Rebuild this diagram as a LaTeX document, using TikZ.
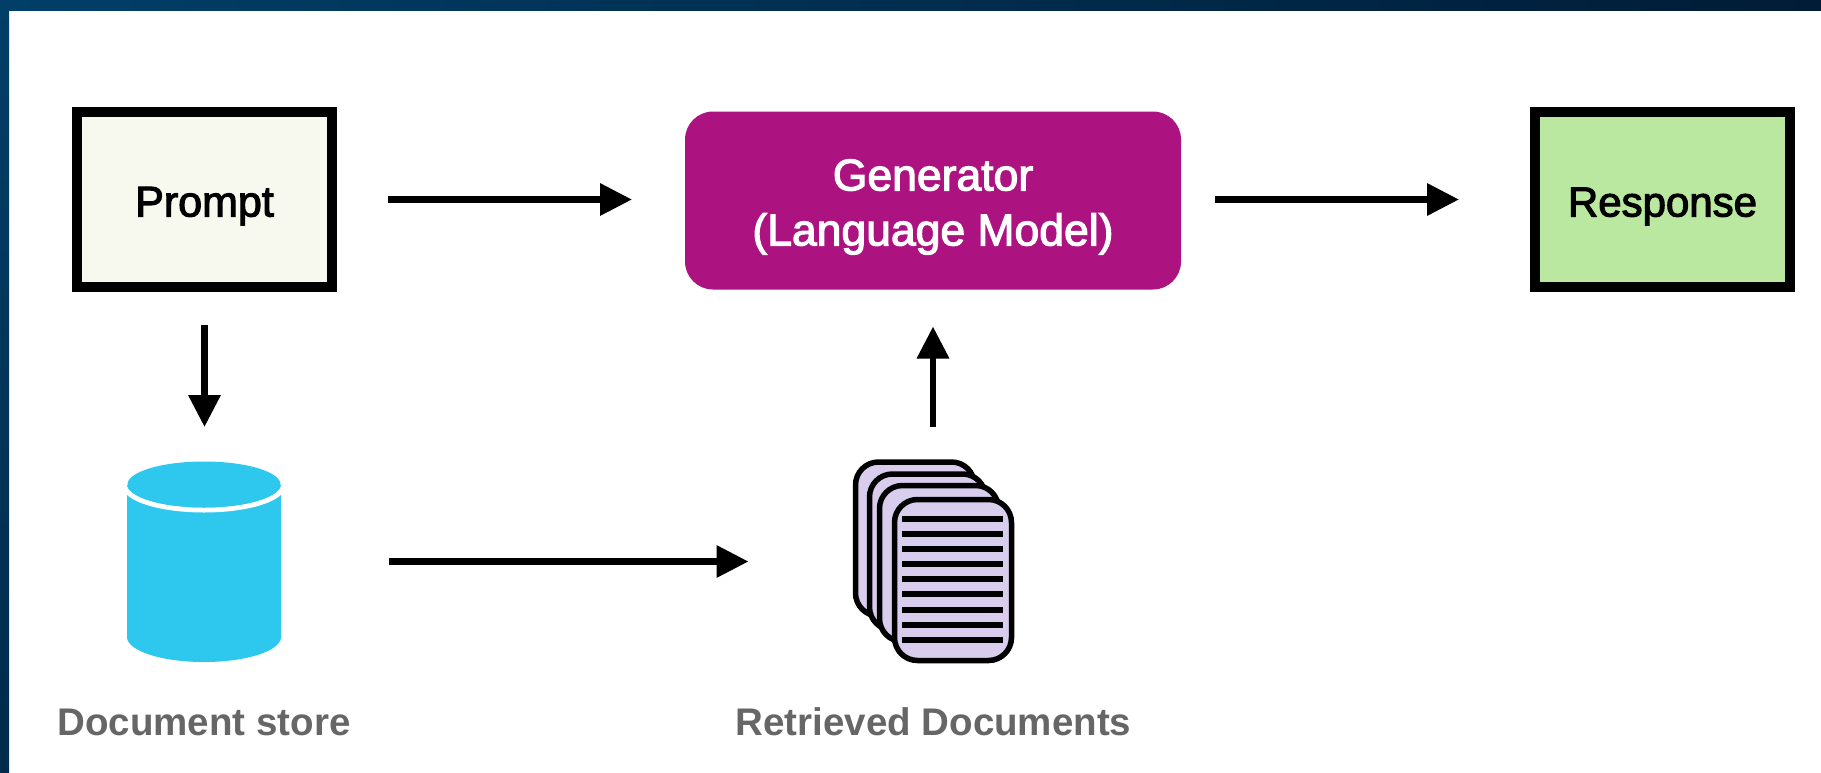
\documentclass[tikz,border=0pt]{standalone}
\usepackage{fontspec}
\usetikzlibrary{arrows.meta}
\setmainfont{Liberation Sans}
\newfontfamily\medfont[FakeBold=2.6]{Liberation Sans}
\newfontfamily\boldfont{Liberation Sans Bold}
\definecolor{bgA}{HTML}{013F68}
\definecolor{bgB}{HTML}{011C36}
\definecolor{bgC}{HTML}{002B4C}
\definecolor{promptfill}{HTML}{F7F9EE}
\definecolor{respfill}{HTML}{BAE8A0}
\definecolor{genfill}{HTML}{AD1380}
\definecolor{cylfill}{HTML}{2EC8EE}
\definecolor{sheetfill}{HTML}{D9CDEE}
\definecolor{labelgray}{HTML}{666666}
\tikzset{
  x=1pt,y=-1pt,
  outbox/.style={draw=black,line width=10pt,minimum width=255pt,minimum height=175pt,inner sep=0pt,outer sep=0pt,text height=34pt,text depth=0pt},
  genbox/.style={fill=genfill,rounded corners=28pt,minimum width=496pt,minimum height=178pt,inner sep=0pt,outer sep=0pt},
  gentext/.style={inner sep=0pt,align=center,text=white,font=\fontsize{44.5}{55}\selectfont\medfont},
  flow/.style={line width=6.5pt,-{Triangle[length=32pt,width=31pt]}},
  sheet/.style={draw=black,fill=sheetfill,line width=5.5pt,rounded corners=23pt,inner sep=0pt,outer sep=0pt},
  textline/.style={draw=black,line width=6pt},
  caption/.style={text=labelgray,anchor=base,inner sep=0pt,font=\fontsize{38.5}{38.5}\selectfont\boldfont},
  cylbody/.style={fill=cylfill,draw=none},
  cylrim/.style={draw=white,line width=5pt}
}
\begin{document}
\begin{tikzpicture}
\useasboundingbox (0,0) rectangle (1821,772);
\fill[white] (0,0) rectangle (1821,772);
\shade[left color=bgA,right color=bgB,draw=none] (0,0) rectangle (1821,10);
\shade[top color=bgA,bottom color=bgC,draw=none] (0,0) rectangle (9,772);

\node[outbox,fill=promptfill,font=\fontsize{43}{43}\selectfont\medfont] (prompt) at (204.5,199.5) {Prompt};
\node[outbox,fill=respfill,font=\fontsize{42}{42}\selectfont\medfont] (response) at (1662.5,199.5) {Response};
\node[genbox] (gen) at (933,200.5) {};
\node[gentext] (gentxt) at (933,207) {Generator\\(Language Model)};

% cylinder
\fill[cylbody] (127,485) -- (127,637) arc[start angle=180,end angle=360,x radius=77pt,y radius=25pt] -- (281,485) -- cycle;
\draw[cylrim] (124.5,485) arc[start angle=180,end angle=360,x radius=79.5pt,y radius=25pt];
\fill[cylbody] (204,484.5) ellipse[x radius=76.5pt,y radius=23pt];
\node[inner sep=0pt,outer sep=0pt,minimum width=154pt,minimum height=201pt] (store) at (204.5,561.5) {};
\node[caption] (storelabel) at (204,735) {Document store};

% documents
\node[sheet,minimum width=119pt,minimum height=154pt] (s1) at (915,539) {};
\node[sheet,minimum width=116pt,minimum height=156pt] (s2) at (927.5,552) {};
\node[sheet,minimum width=119pt,minimum height=156pt] (s3) at (939,563.5) {};
\node[sheet,minimum width=117pt,minimum height=161pt] (s4) at (953,580) {};
\foreach \yy in {519,534,549,564,579,594,610,625,640}
  \draw[textline] (902,\yy) -- (1003,\yy);
\node[inner sep=0pt,outer sep=0pt,minimum width=161pt,minimum height=203pt] (docs) at (933,561.5) {};
\node[caption] (docslabel) at (933.5,735) {Retrieved Documents};

% connectors
\draw[flow,shorten <=56pt,shorten >=53pt] (prompt.east) -- (prompt.east -| gen.west);
\draw[flow,shorten <=34pt,shorten >=76pt] (gen.east |- response.west) -- (response.west);
\draw[flow,shorten <=38pt,shorten >=34pt] (prompt.south) -- (store.north);
\draw[flow,shorten <=107pt,shorten >=104pt] (store.east) -- (docs.west);
\draw[flow,shorten <=33pt,shorten >=37pt] (docs.north) -- (gen.south);
\end{tikzpicture}
\end{document}
